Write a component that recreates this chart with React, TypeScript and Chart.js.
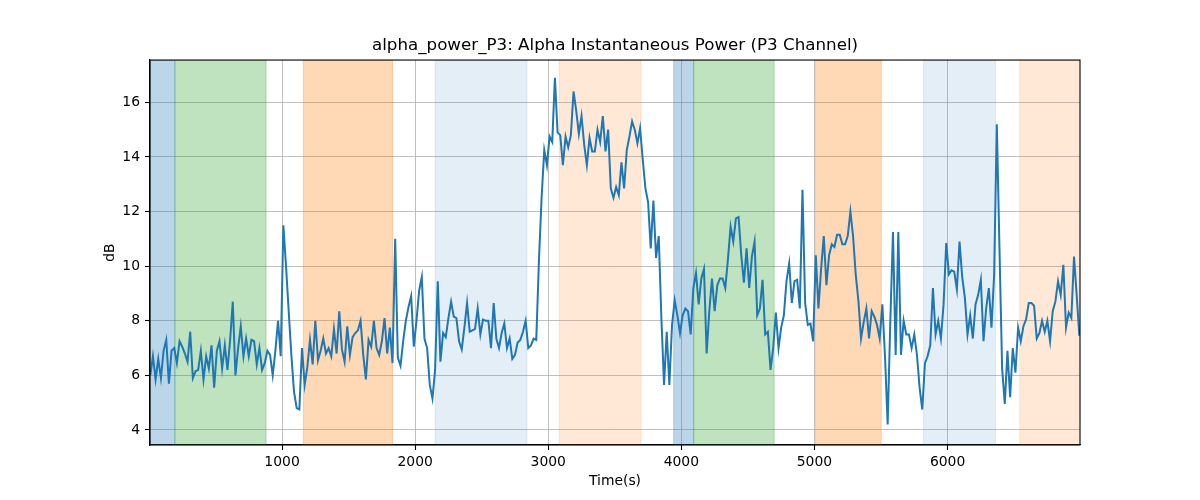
import React, { useEffect, useRef } from 'react';
import { Chart, registerables } from 'chart.js';

Chart.register(...registerables);

// sample times: first sample and spacing (s)
const T_START = 10;
const T_STEP = 20;

// alpha power in dB, one value per sample
const DB_VALUES = [
  6.0, 6.7, 5.85, 6.6, 5.9, 6.9, 7.3, 5.7, 6.9, 7.0,
  6.45, 7.25, 7.05, 6.8, 6.5, 7.6, 5.9, 6.15, 6.2, 6.9,
  5.85, 6.7, 6.25, 7.1, 5.55, 6.9, 7.25, 6.25, 7.1, 6.2,
  7.3, 8.7, 6.0, 7.0, 7.8, 6.7, 7.35, 6.7, 7.3, 7.25,
  6.4, 7.0, 6.2, 6.45, 6.9, 6.75, 6.0, 6.9, 8.0, 6.7,
  11.5, 10.0, 8.35, 6.75, 5.4, 4.8, 4.75, 7.0, 5.65, 6.3,
  7.3, 6.4, 8.0, 6.55, 6.9, 7.35, 6.8, 7.0, 6.7, 7.7,
  6.8, 8.35, 6.95, 6.5, 7.8, 6.75, 7.4, 7.55, 7.65, 8.0,
  6.75, 5.85, 7.3, 7.05, 8.0, 7.0, 6.75, 7.25, 8.1, 6.8,
  7.75, 6.45, 11.0, 6.65, 6.35, 7.25, 8.0, 8.5, 8.9, 7.05,
  8.0, 9.1, 9.6, 7.35, 7.0, 5.65, 5.15, 6.2, 9.45, 6.5,
  7.55, 7.4, 8.1, 8.7, 8.15, 8.1, 7.25, 6.95, 7.75, 8.65,
  7.6, 7.65, 7.7, 8.45, 7.5, 8.05, 8.0, 8.0, 7.0, 8.65,
  7.35, 7.0, 7.55, 7.9, 7.0, 7.35, 6.6, 6.75, 7.2, 7.3,
  7.6, 8.0, 7.0, 7.1, 7.35, 7.3, 10.2, 12.5, 14.25, 13.7,
  14.75, 14.55, 16.9, 14.9, 14.8, 13.7, 14.75, 14.35, 14.8, 16.4,
  15.7, 14.85, 15.5, 14.45, 13.7, 14.7, 14.2, 14.2, 15.0, 14.55,
  15.5, 14.2, 15.0, 12.85, 12.5, 12.9, 12.6, 13.8, 12.85, 14.25,
  14.75, 15.3, 15.0, 14.5, 15.05, 13.9, 12.85, 12.35, 10.65, 12.4,
  10.3, 11.1, 8.1, 5.65, 7.6, 5.65, 7.85, 8.75, 8.2, 7.55,
  8.2, 8.45, 8.35, 7.5, 9.2, 9.75, 8.6, 9.55, 9.9, 6.8,
  8.35, 9.55, 8.35, 9.3, 9.55, 9.55, 9.2, 10.25, 11.45, 10.9,
  11.75, 11.8, 10.4, 9.4, 10.65, 9.2, 10.35, 10.9, 8.2, 8.45,
  9.5, 7.5, 7.6, 6.2, 7.0, 8.3, 7.0, 7.75, 8.2, 9.45,
  10.1, 8.65, 9.45, 9.5, 8.45, 12.8, 8.65, 7.85, 7.9, 7.25,
  10.4, 8.45, 9.9, 11.1, 9.3, 10.4, 10.8, 10.7, 11.15, 11.15,
  10.8, 10.8, 11.1, 12.0, 11.1, 9.7, 8.75, 7.35, 7.95, 8.45,
  7.35, 8.35, 8.15, 7.85, 7.35, 8.6, 6.7, 4.2, 8.0, 11.25,
  6.75, 11.25, 6.75, 8.0, 7.5, 7.5, 7.0, 7.5, 6.75, 5.55,
  4.75, 6.45, 6.7, 7.1, 9.2, 7.5, 8.0, 7.35, 8.6, 10.85,
  9.7, 9.85, 9.8, 9.15, 10.9, 9.6, 8.85, 7.5, 8.2, 7.35,
  8.6, 8.95, 9.5, 7.25, 8.45, 9.2, 7.75, 9.7, 15.2, 10.65,
  6.25, 4.95, 6.9, 5.2, 7.0, 6.1, 7.75, 7.25, 7.8, 8.05,
  8.65, 8.65, 8.55, 7.35, 7.55, 8.0, 7.6, 8.0, 7.25, 8.35,
  8.7, 9.45, 8.95, 10.05, 7.75, 8.3, 8.1, 10.35, 8.95, 7.45,
];

const X_TICKS = [1000, 2000, 3000, 4000, 5000, 6000];
const Y_TICKS = [4, 6, 8, 10, 12, 14, 16];

// shaded intervals (s)
const SPAN_FROM = [8, 195, 1160, 2150, 3083, 3943, 4093, 5008, 5820, 6542];
const SPAN_TO = [195, 880, 1830, 2840, 3697, 4093, 4697, 5502, 6360, 7000];
const SPAN_COLORS = [
  'rgba(31,119,180,0.3)',
  'rgba(44,160,44,0.3)',
  'rgba(255,127,14,0.3)',
  'rgba(31,119,180,0.12)',
  'rgba(255,127,14,0.17)',
  'rgba(31,119,180,0.3)',
  'rgba(44,160,44,0.3)',
  'rgba(255,127,14,0.3)',
  'rgba(31,119,180,0.12)',
  'rgba(255,127,14,0.17)',
];

const FONT = 'DejaVu Sans';

const spansPlugin = {
  id: 'spans',
  beforeDatasetsDraw(chart: any) {
    const { ctx, chartArea: a, scales } = chart;
    const x = scales.x;
    ctx.save();
    ctx.beginPath();
    ctx.rect(a.left, a.top, a.right - a.left, a.bottom - a.top);
    ctx.clip();
    SPAN_FROM.forEach((s, i) => {
      const x0 = x.getPixelForValue(s);
      const x1 = x.getPixelForValue(SPAN_TO[i]);
      ctx.fillStyle = SPAN_COLORS[i];
      ctx.fillRect(x0, a.top, x1 - x0, a.bottom - a.top);
      ctx.strokeStyle = SPAN_COLORS[i];
      ctx.lineWidth = 1;
      ctx.strokeRect(x0, a.top, x1 - x0, a.bottom - a.top);
    });
    ctx.restore();
  },
};

const framePlugin = {
  id: 'frame',
  afterDraw(chart: any) {
    const { ctx, chartArea: a } = chart;
    ctx.save();
    ctx.strokeStyle = '#000';
    ctx.lineWidth = 1.1;
    ctx.strokeRect(a.left, a.top, a.right - a.left, a.bottom - a.top);
    ctx.restore();
  },
};

export default function App() {
  const canvasRef = useRef<HTMLCanvasElement>(null);
  const chartRef = useRef<Chart | null>(null);

  useEffect(() => {
    if (!canvasRef.current) return;
    if (chartRef.current) chartRef.current.destroy();

    const points = DB_VALUES.map((v, i) => ({ x: T_START + i * T_STEP, y: v }));

    chartRef.current = new Chart(canvasRef.current, {
      type: 'line',
      data: {
        datasets: [
          {
            label: 'alpha_power_P3',
            data: points,
            borderColor: '#1f77b4',
            borderWidth: 2,
            pointRadius: 0,
            tension: 0,
            fill: false,
          },
        ],
      },
      options: {
        animation: false,
        responsive: true,
        maintainAspectRatio: false,
        layout: { padding: { left: 0, right: 120, top: 0, bottom: 0 } },
        plugins: {
          legend: { display: false },
          tooltip: { enabled: false },
          title: {
            display: true,
            fullSize: false,
            text: 'alpha_power_P3: Alpha Instantaneous Power (P3 Channel)',
            color: '#000',
            font: { family: FONT, size: 16.7, weight: 'normal' },
            padding: { top: 36, bottom: 4 },
          },
        },
        scales: {
          x: {
            type: 'linear',
            min: 8,
            max: 6995,
            afterBuildTicks: (scale: any) => {
              scale.ticks = X_TICKS.map((v) => ({ value: v }));
            },
            afterFit: (scale: any) => {
              scale.height = 55;
            },
            grid: { color: '#b0b0b0', lineWidth: 0.8, tickColor: '#000', tickLength: 5, tickWidth: 1.1 },
            border: { display: true, color: '#000', width: 1.1 },
            ticks: {
              color: '#000',
              font: { family: FONT, size: 13.9 },
              padding: 4,
              maxRotation: 0,
              autoSkip: false,
              callback: (v: any) => String(v),
            },
            title: {
              display: true,
              text: 'Time(s)',
              color: '#000',
              font: { family: FONT, size: 13.9 },
              padding: { top: 0, bottom: 10.7 },
            },
          },
          y: {
            type: 'linear',
            min: 3.45,
            max: 17.55,
            afterBuildTicks: (scale: any) => {
              scale.ticks = Y_TICKS.map((v) => ({ value: v }));
            },
            afterFit: (scale: any) => {
              scale.width = 150;
            },
            grid: { color: '#b0b0b0', lineWidth: 0.8, tickColor: '#000', tickLength: 5, tickWidth: 1.1 },
            border: { display: true, color: '#000', width: 1.1 },
            ticks: {
              color: '#000',
              font: { family: FONT, size: 13.9 },
              padding: 5,
              autoSkip: false,
              callback: (v: any) => String(v),
            },
            title: {
              display: true,
              text: 'dB',
              color: '#000',
              font: { family: FONT, size: 13.9 },
              padding: { top: 101.7, bottom: 0 },
            },
          },
        },
      },
      plugins: [spansPlugin, framePlugin],
    });

    return () => {
      if (chartRef.current) {
        chartRef.current.destroy();
        chartRef.current = null;
      }
    };
  }, []);

  return (
    <div style={{ position: 'absolute', left: 0, top: 0, width: 1200, height: 500, background: '#fff' }}>
      <canvas ref={canvasRef}></canvas>
    </div>
  );
}
